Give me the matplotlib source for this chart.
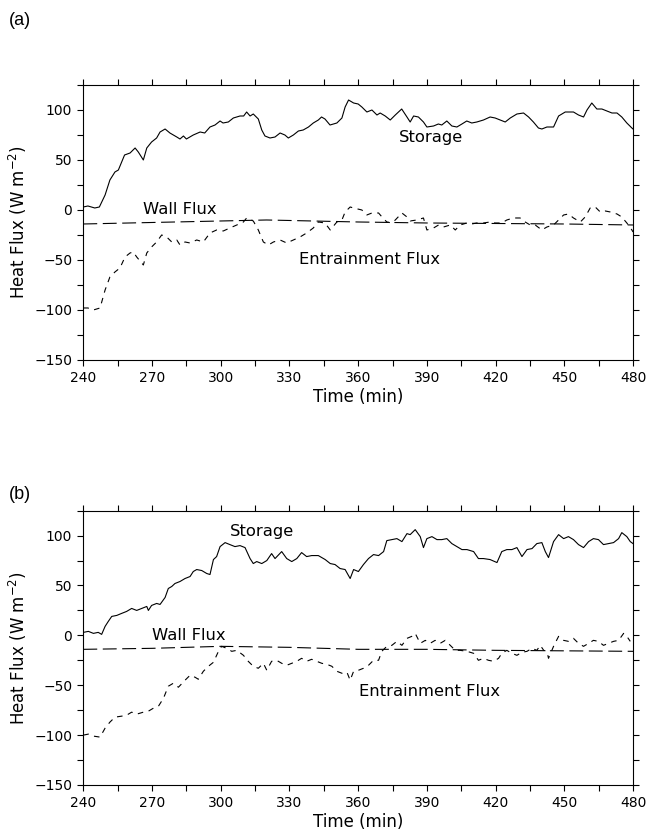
import numpy as np
import matplotlib
matplotlib.use("Agg")
import matplotlib.pyplot as plt
from matplotlib.ticker import MultipleLocator

plt.rcParams['font.family'] = ['DejaVu Sans']
plt.rcParams['mathtext.fontset'] = 'dejavusans'
plt.rcParams['lines.scale_dashes'] = False

# ---- panel (a) ----
a_storage_t = [240, 242, 245, 247, 249.5, 251.6, 253.8, 255.3, 258, 260.4, 262.6, 264, 266.2, 267.7,
               269.8, 272, 273.5, 275.7, 277.8, 280.8, 282.2, 283.7, 285, 288, 291, 293, 295.3, 297.5,
               299.7, 301, 303.3, 305.5, 308.4, 310, 311.3, 312.8, 314.2, 316.4, 317.9, 319.3, 321.5,
               323.7, 325.9, 328, 329.5, 331.7, 333.9, 336, 338.3, 340.4, 342.6, 344, 345.5, 347.7,
               350.7, 352.9, 354.3, 355.8, 358, 360, 361.6, 363.8, 366, 368.2, 369.6, 371.8, 374,
               376.2, 379, 381.3, 382.7, 384.2, 386.3, 388.5, 390, 392.9, 395, 396.5, 398.7, 400.9,
               403.1, 405.3, 407.4, 409.6, 411.8, 414.7, 417.6, 419.8, 422, 424.2, 426.4, 429.3,
               432.2, 434.4, 436.5, 438.7, 440.2, 442.4, 445.3, 447.5, 450.4, 454, 456.2, 458.4,
               459.9, 462, 464.2, 466.4, 468.6, 470.8, 473, 475.1, 477.3, 479.5, 480]
a_storage = [3, 4, 2, 3, 15, 30, 38, 40, 55, 57, 62, 58, 50, 62,
             68, 72, 78, 81, 77, 73, 71, 74, 71, 75, 78, 77, 83, 85,
             89, 87, 88, 92, 94, 94, 98, 94, 96, 91, 80, 74, 72,
             73, 77, 75, 72, 75, 79, 80, 83, 87, 90, 93, 91, 85,
             87, 92, 103, 110, 107, 106, 103, 98, 100, 95, 97, 94, 90,
             95, 101, 93, 88, 94, 93, 88, 83, 84, 86, 85, 89, 84,
             83, 86, 89, 87, 88, 90, 93, 92, 90, 88, 92, 96,
             97, 93, 88, 82, 81, 83, 83, 94, 98, 98, 95, 93,
             100, 107, 101, 101, 99, 97, 97, 93, 87, 82, 81]

a_wall_t = [240, 270, 300, 320, 340, 360, 390, 420, 450, 480]
a_wall = [-14, -12.5, -11, -10, -11, -12, -13, -13.5, -14, -15]

a_entr_t = [240, 242, 244.4, 247.3, 249.5, 251.6, 253.8, 256, 258.2, 260.4, 261.8, 263.3, 266.2,
            267.7, 269.8, 272, 274.2, 276.4, 278.6, 280.8, 282.2, 284.4, 286.6, 289.5, 292.4,
            295.3, 298.2, 301.1, 304, 307, 309.9, 311.3, 314.2, 316.4, 318.6, 320.8, 323, 325.9,
            328.8, 331.7, 334.6, 337.5, 340.4, 342.6, 345.5, 347.8, 350.7, 352.9, 354.3, 356.5,
            358, 361.6, 363.8, 366, 368.9, 370.4, 372.5, 374.7, 376.2, 379.1, 381.3, 382.7, 385.6,
            388.5, 390, 392.9, 395.1, 397.3, 400.2, 402.4, 404.5, 407.5, 409.6, 411.8, 414.7,
            417.6, 419.8, 422.7, 424.9, 427.8, 430.7, 432.9, 435.1, 437.3, 440.2, 442.4, 445.3,
            447.5, 449.7, 451.8, 454, 457, 459.1, 461.3, 463.5, 465.7, 467.9, 470.1, 473, 475.1,
            477.3, 479.5, 480]
a_entr = [-98, -98, -100, -98, -80, -67, -62, -58, -47, -43, -42, -47, -55,
          -43, -37, -32, -25, -27, -32, -30, -35, -32, -33, -30, -32,
          -23, -20, -21, -18, -15, -12, -8, -11, -20, -32, -35, -32, -30,
          -33, -30, -27, -23, -18, -12, -13, -20, -12, -10, -2, 3,
          2, 0, -5, -3, -3, -7, -12, -13, -10, -3, -7, -11, -10,
          -8, -20, -18, -15, -17, -15, -20, -15, -13, -14, -13, -13,
          -12, -13, -13, -10, -8, -8, -12, -15, -15, -20, -17, -15,
          -10, -5, -4, -8, -12, -7, 2, 3, -2, -1, -2, -4, -7,
          -13, -20, -22]

# ---- panel (b) ----
b_storage_t = [240, 242.2, 244.4, 246.5, 248, 249.5, 250.9, 252.4, 254.6, 256.7, 258.9, 261.1, 263.3,
               265.5, 267.7, 268.4, 269.8, 272, 273.5, 275.7, 277.1, 278.6, 280, 282.2, 284.4,
               286.6, 288, 289.5, 291.7, 293.9, 295.3, 296.8, 298.2, 299.7, 301.9, 304, 306.2,
               308.4, 310.6, 312.8, 314.2, 315.7, 317.9, 320.1, 322.2, 323.7, 326.6, 328.8, 331,
               333.2, 335.3, 337.5, 339.7, 342.6, 345.6, 347.8, 349.9, 352.1, 354.3, 356.5, 358,
               360.1, 362.3, 364.5, 366.7, 368.9, 371.1, 372.5, 374.7, 376.9, 379.1, 381.3, 382.7,
               384.9, 387.1, 388.5, 390, 392.2, 394.4, 396.5, 398.7, 400.9, 403.1, 405.3, 407.5,
               410.4, 412.5, 414.7, 417.6, 420.6, 422.7, 424.9, 427.1, 429.3, 431.5, 433.7, 435.9,
               438, 440.2, 441.7, 443.1, 445.3, 447.5, 449.7, 451.8, 454, 456.2, 458.4, 460.6,
               462.7, 464.9, 467.1, 469.3, 471.5, 473.7, 475.1, 477.3, 478.8, 480]
b_storage = [3, 4, 2, 3, 1, 9, 14, 19, 20, 22, 24, 27, 25,
             27, 29, 25, 30, 32, 31, 38, 47, 49, 52, 54, 57,
             59, 64, 66, 65, 62, 61, 76, 79, 89, 93, 91, 89,
             90, 88, 77, 72, 74, 72, 75, 82, 77, 84, 77, 74,
             77, 83, 79, 80, 80, 76, 72, 71, 67, 66, 57, 66,
             64, 71, 77, 81, 80, 84, 95, 96, 97, 94, 102, 101,
             106, 99, 88, 97, 99, 96, 96, 97, 92, 89, 86, 86,
             84, 77, 77, 76, 73, 84, 86, 86, 88, 79, 86, 87,
             92, 93, 84, 78, 94, 101, 97, 99, 96, 91, 88, 94,
             97, 96, 91, 92, 93, 97, 103, 99, 94, 92]

b_wall_t = [240, 270, 300, 330, 360, 390, 420, 450, 480]
b_wall = [-14, -13, -11, -12, -14, -14, -15, -15.5, -16]

b_entr_t = [240, 242.2, 244.4, 247.3, 249.5, 251.6, 253.8, 256.7, 258.9, 261.1, 263.3, 266.2, 268.4,
            270.6, 272.8, 275, 277.1, 279.3, 281.5, 284.4, 286.6, 288.8, 290.2, 292.4, 294.6,
            296.8, 299, 300.4, 302.6, 304.8, 307, 309.9, 312, 314.2, 316.4, 318.6, 320.1, 322.2,
            324.4, 326.6, 328.8, 331, 333.2, 335.3, 337.5, 339.7, 341.9, 344.1, 346.3, 348.5,
            350.7, 352.9, 355.1, 356.5, 358, 360.1, 362.3, 364.5, 366.7, 368.9, 370.3, 372.5,
            374.7, 376.9, 379.1, 381.3, 383.4, 384.9, 387.1, 389.3, 391.4, 393.6, 395.8, 398,
            400.2, 402.4, 404.5, 407.5, 410.4, 412.5, 414.7, 416.9, 419.1, 421.3, 422.7, 424.9,
            427.1, 429.3, 431.5, 433.7, 435.9, 438, 439.5, 441, 442.4, 443.1, 445.3, 447.5, 449.7,
            451.8, 454, 456.2, 458.4, 460.6, 462.7, 464.9, 467.1, 469.3, 471.5, 473.7, 475.9,
            477.3, 478.8]
b_entr = [-100, -99, -101, -102, -93, -87, -82, -81, -80, -77, -79, -77, -76,
          -73, -71, -63, -51, -48, -52, -45, -40, -42, -44, -36, -31,
          -27, -16, -11, -13, -16, -15, -20, -26, -31, -33, -28, -35, -26,
          -25, -28, -30, -28, -26, -23, -26, -24, -26, -28, -29, -31,
          -36, -38, -37, -45, -36, -35, -33, -30, -25, -25, -16, -11,
          -10, -6, -10, -3, -1, 2, -8, -5, -8, -5, -8, -5,
          -10, -15, -15, -16, -18, -25, -23, -25, -26, -23, -18, -15,
          -18, -20, -17, -16, -13, -15, -10, -15, -16, -23, -11, -1, -5,
          -6, -3, -8, -11, -8, -5, -6, -10, -8, -6, -5, 2,
          -1, -6]

panels = [
    ("(a)", a_storage_t, a_storage, a_wall_t, a_wall, a_entr_t, a_entr,
     [(392, 72), (282, 0), (365, -50)]),
    ("(b)", b_storage_t, b_storage, b_wall_t, b_wall, b_entr_t, b_entr,
     [(318, 104), (286, 0), (391, -56)]),
]
names = ["Storage", "Wall Flux", "Entrainment Flux"]

fig = plt.figure(figsize=(6.47, 8.35), dpi=100)
boxes = [[0.1288, 0.5689, 0.8496, 0.3293], [0.1288, 0.0599, 0.8496, 0.3285]]
tags_y = [0.975, 0.408]

for i, (tag, st, s, wt, w, et, e, lab) in enumerate(panels):
    ax = fig.add_axes(boxes[i])
    ax.plot(st, s, color='black', lw=0.8)
    ax.plot(wt, w, color='black', lw=0.8, dashes=(10, 4))
    ax.plot(et, e, color='black', lw=0.8, dashes=(4, 4))
    for (x, y), nm in zip(lab, names):
        ax.text(x, y, nm, ha='center', va='center', fontsize=11.8)
    ax.set_xlim(240, 480)
    ax.set_ylim(-150, 125)
    ax.xaxis.set_major_locator(MultipleLocator(30))
    ax.xaxis.set_minor_locator(MultipleLocator(15))
    ax.yaxis.set_major_locator(MultipleLocator(50))
    ax.yaxis.set_minor_locator(MultipleLocator(25))
    ax.tick_params(which='both', direction='out', length=4, width=0.8,
                   top=True, right=True, labelsize=10, pad=4)
    for sp in ax.spines.values():
        sp.set_linewidth(0.8)
    ax.set_xlabel("Time (min)", fontsize=12, labelpad=2)
    ax.set_ylabel("Heat Flux (W m$^{-2}$)", fontsize=12, labelpad=4)
    fig.text(0.013, tags_y[i], tag, fontsize=13, va='center',
             family=['Liberation Sans', 'DejaVu Sans'])

fig.savefig("out.png", dpi=100)
